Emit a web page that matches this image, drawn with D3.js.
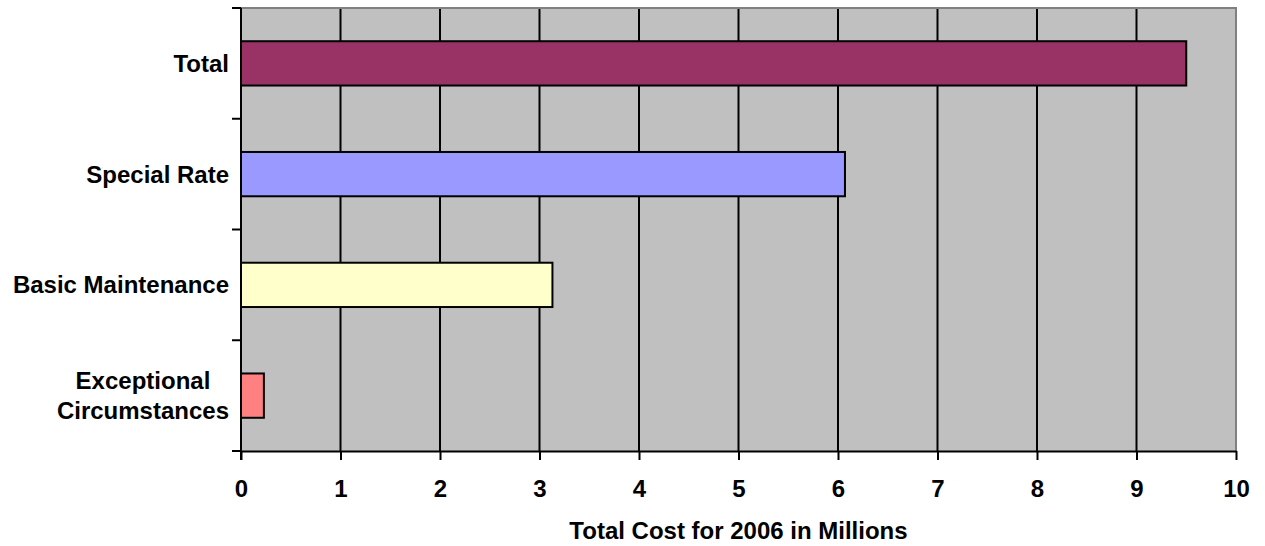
<!DOCTYPE html>
<html>
<head>
<meta charset="utf-8">
<script src="https://cdn.jsdelivr.net/npm/d3@7"></script>
<style>
  html, body { margin: 0; padding: 0; background: #fff; }
  svg text { font-family: "Liberation Sans", Arial, sans-serif; font-weight: bold; fill: #000; }
</style>
</head>
<body>
<svg id="chart" width="1265" height="546"></svg>
<script>
// Cost categories, top to bottom
const categories = ["Total", "Special Rate", "Basic Maintenance", "Exceptional Circumstances"];
// Label lines for each category (long names wrap onto two lines)
const categoryLines = [["Total"], ["Special Rate"], ["Basic Maintenance"], ["Exceptional", "Circumstances"]];
// Total cost for 2006, in millions
const values = [9.5, 6.07, 3.13, 0.23];
const barColors = ["#993366", "#9999FF", "#FFFFCC", "#FF8080"];
const xTicks = [0, 1, 2, 3, 4, 5, 6, 7, 8, 9, 10];
const xTitle = "Total Cost for 2006 in Millions";

const FONT_SIZE = 24;
const svg = d3.select("#chart");
const plot = { left: 241, top: 8, right: 1236, bottom: 451 };

const x = d3.scaleLinear().domain([0, 10]).range([plot.left, plot.right]);
const y = d3.scaleBand().domain(categories).range([plot.top, plot.bottom]).paddingInner(0.6).paddingOuter(0.3);
const band = d3.scaleBand().domain(categories).range([plot.top, plot.bottom]);

// Plot background
svg.append("rect")
  .attr("x", plot.left).attr("y", plot.top)
  .attr("width", plot.right - plot.left).attr("height", plot.bottom - plot.top)
  .attr("fill", "#C0C0C0");

// Vertical gridlines
svg.append("g").selectAll("line")
  .data(xTicks.filter(t => t > 0 && t < 10))
  .join("line")
  .attr("x1", d => x(d)).attr("x2", d => x(d))
  .attr("y1", plot.top).attr("y2", plot.bottom)
  .attr("stroke", "#000").attr("stroke-width", 2);

// Top and right frame edges
svg.append("path")
  .attr("d", `M${plot.left},${plot.top}H${plot.right}V${plot.bottom}`)
  .attr("fill", "none").attr("stroke", "#808080").attr("stroke-width", 2);

// Bars
svg.append("g").selectAll("rect")
  .data(categories)
  .join("rect")
  .attr("x", x(0))
  .attr("y", d => y(d))
  .attr("width", (d, i) => x(values[i]) - x(0))
  .attr("height", y.bandwidth())
  .attr("fill", (d, i) => barColors[i])
  .attr("stroke", "#000").attr("stroke-width", 2);

// X axis
const xAxis = svg.append("g")
  .attr("transform", `translate(0,${plot.bottom})`)
  .call(d3.axisBottom(x).tickValues(xTicks).tickFormat(d3.format("d")).tickSize(9).tickSizeOuter(0).tickPadding(20));
xAxis.select(".domain").attr("stroke", "#000").attr("stroke-width", 2);
xAxis.selectAll(".tick line").attr("stroke", "#000").attr("stroke-width", 2);
xAxis.selectAll(".tick text")
  .attr("font-size", FONT_SIZE).attr("font-family", "Liberation Sans, Arial, sans-serif").attr("font-weight", "bold");

// Y axis line with ticks at category boundaries
svg.append("line")
  .attr("x1", plot.left).attr("x2", plot.left)
  .attr("y1", plot.top).attr("y2", plot.bottom + 9)
  .attr("stroke", "#000").attr("stroke-width", 2);
const boundaries = categories.map(c => band(c)).concat([plot.bottom]);
svg.append("g").selectAll("line")
  .data(boundaries)
  .join("line")
  .attr("x1", plot.left - 9).attr("x2", plot.left)
  .attr("y1", d => d).attr("y2", d => d)
  .attr("stroke", "#000").attr("stroke-width", 2);

// Category labels, right-aligned against the axis
const labels = svg.append("g").selectAll("text")
  .data(categories)
  .join("text")
  .attr("font-size", FONT_SIZE);
labels.each(function(d, i) {
  const lines = categoryLines[i];
  const cy = band(d) + band.bandwidth() / 2;
  const lh = 30;
  const t = d3.select(this);
  lines.forEach((line, j) => {
    t.append("tspan")
      .attr("x", 229)
      .attr("y", cy + (j - (lines.length - 1) / 2) * lh)
      .attr("dy", "0.35em")
      .attr("text-anchor", "end")
      .text(line);
  });
});
// Multi-line labels: center each line on the widest one
labels.each(function(d, i) {
  if (categoryLines[i].length < 2) return;
  const spans = d3.select(this).selectAll("tspan").nodes();
  const maxW = Math.max(...spans.map(s => s.getComputedTextLength()));
  spans.forEach(s => {
    d3.select(s).attr("x", 229 - maxW / 2).attr("text-anchor", "middle");
  });
});

// X axis title
svg.append("text")
  .attr("x", (plot.left + plot.right) / 2)
  .attr("y", 531)
  .attr("dy", "0.35em")
  .attr("text-anchor", "middle")
  .attr("font-size", FONT_SIZE)
  .text(xTitle);
</script>
</body>
</html>
